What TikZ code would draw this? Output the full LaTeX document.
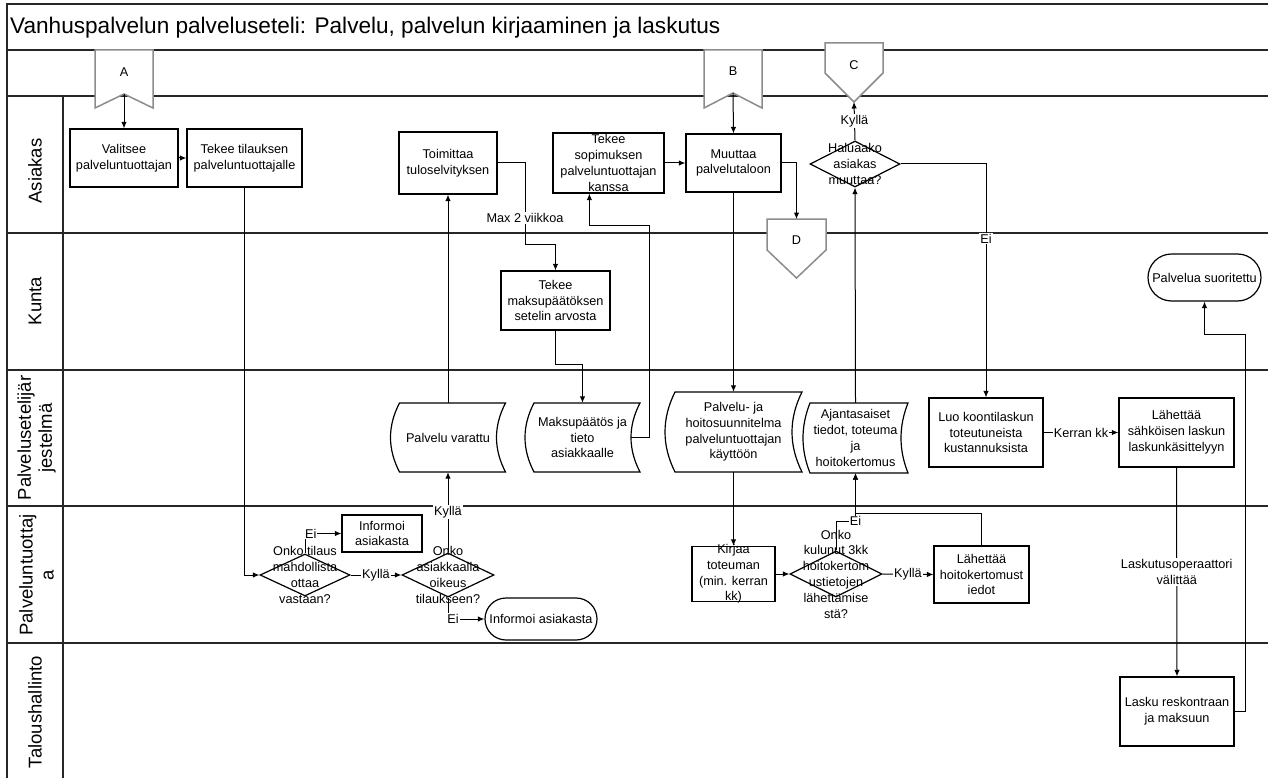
\documentclass[tikz,border=0pt]{standalone}
\usepackage{fontspec}
\setmainfont{Liberation Sans}
\usetikzlibrary{arrows.meta,shapes.geometric,shapes.misc,calc}

% process box: empty frame plus a centred text node (text may overflow the frame)
\newcommand\procbox[6]{%
  \node[boxshape, minimum width=#4, minimum height=#5] (#1) at (#2,#3) {};
  \node[txt] (#1-t) at (#1.center) {#6};}
% decision diamond with overflowing text
\newcommand\decbox[6]{%
  \node[decshape, minimum width=#4, minimum height=#5] (#1) at (#2,#3) {};
  \node[txt] (#1-t) at (#1.center) {#6};}
% stored-data symbol: name, cx, cy, width, height, bulge, text
\newcommand\storedbox[7]{%
  \draw[boxline, fill=white] ({#2-#4/2+#6},{#3-#5/2}) -- ({#2+#4/2},{#3-#5/2})
    .. controls ({#2+#4/2-4*#6/3},{#3-#5/6}) and ({#2+#4/2-4*#6/3},{#3+#5/6}) .. ({#2+#4/2},{#3+#5/2})
    -- ({#2-#4/2+#6},{#3+#5/2})
    .. controls ({#2-#4/2+#6-4*#6/3},{#3+#5/6}) and ({#2-#4/2+#6-4*#6/3},{#3-#5/6}) .. cycle;
  \node[txt, minimum width={#4-2*#6}, minimum height=#5] (#1) at (#2,#3) {#7};}

\begin{document}
\begin{tikzpicture}[x=1pt,y=-1pt,
  txt/.style={font=\fontsize{12.7}{15.8}\selectfont, align=center, inner sep=0pt},
  boxline/.style={draw=black, line width=1.2pt},
  boxshape/.style={boxline, fill=white, inner sep=0pt},
  decshape/.style={diamond, boxline, fill=white, inner sep=0pt},
  termshape/.style={rounded rectangle, boxline, fill=white, inner sep=0pt, txt},
  conn/.style={line width=1pt, -{Latex[length=6.5pt,width=5.5pt]}},
  lbl/.style={txt, fill=white, inner sep=1pt},
  lane/.style={line width=1.2pt, draw=black!85},
  offpage/.style={draw=black!45, line width=1.5pt, fill=white},
  lanetitle/.style={font=\fontsize{18.5}{21}\selectfont, align=center, rotate=90, inner sep=0pt}
]
\useasboundingbox (0,0) rectangle (1268,778);

% frame, title band, header band and swimlanes
\draw[lane] (7,778) -- (7,4) -- (1268,4);
\draw[lane] (7,50) -- (1268,50);
\draw[lane] (7,96) -- (1268,96);
\foreach \yy in {233,370,506,643} \draw[lane] (7,\yy) -- (1268,\yy);
\draw[lane] (63,96) -- (63,778);

\node[anchor=base west, font=\fontsize{22.6}{26}\selectfont, inner sep=0pt] (title) at (10,34)
  {Vanhuspalvelun palveluseteli: Palvelu, palvelun kirjaaminen ja laskutus};

\node[lanetitle] (lane1) at (35,171) {Asiakas};
\node[lanetitle] (lane2) at (35,301) {Kunta};
\node[lanetitle] (lane3) at (36.5,438) {Palvelusetelijär\\jestelmä};
\node[lanetitle] (lane4) at (36.5,575) {Palveluntuottaj\\a};
\node[lanetitle] (lane5) at (35,712) {Taloushallinto};

% off-page connectors
\draw[offpage] (95,50) -- (153,50) -- (153,108) -- (124,94) -- (95,108) -- cycle;
\node[txt] (A) at (124,72) {A};
\coordinate (A-out) at (124,94);
\draw[offpage] (704,50) -- (762,50) -- (762,108) -- (733,93) -- (704,108) -- cycle;
\node[txt] (B) at (733,71) {B};
\coordinate (B-out) at (733,93);
\draw[offpage] (825,43) -- (883,43) -- (883,73) -- (854,102) -- (825,73) -- cycle;
\node[txt] (C) at (854,65) {C};
\coordinate (C-in) at (854,102);
\draw[offpage] (767,219) -- (826,219) -- (826,250) -- (796.5,278) -- (767,250) -- cycle;
\node[txt] (D) at (796.5,240) {D};
\coordinate (D-in) at (796.5,219);

% Asiakas
\procbox{valitsee}{124}{158}{108}{58}{Valitsee\\palveluntuottajan}
\procbox{tilaus}{244.5}{158}{115}{58}{Tekee tilauksen\\palveluntuottajalle}
\procbox{toimittaa}{448}{163}{98}{62}{Toimittaa\\tuloselvityksen}
\procbox{sopimus}{608.5}{163}{111}{60}{Tekee\\sopimuksen\\palveluntuottajan\\kanssa}
\procbox{muuttaa}{733.5}{163}{95}{58}{Muuttaa\\palvelutaloon}
\decbox{hal}{855}{164}{90}{46}{Haluaako\\asiakas\\muuttaa?}

% Kunta
\procbox{maksu}{555.5}{300.5}{109}{59}{Tekee\\maksupäätöksen\\setelin arvosta}
\node[termshape, minimum width=113, minimum height=47] (suor) at (1204.5,277.5) {Palvelua suoritettu};

% Palvelusetelijärjestelmä
\storedbox{pv}{448}{437.5}{115}{69}{9}{Palvelu varattu}
\storedbox{mp}{582.5}{437.5}{115}{69}{9}{Maksupäätös ja\\tieto\\asiakkaalle}
\storedbox{pj}{733.5}{432}{137}{80}{10}{Palvelu- ja\\hoitosuunnitelma\\palveluntuottajan\\käyttöön}
\storedbox{ajan}{855.5}{438}{105}{70}{7}{Ajantasaiset\\tiedot, toteuma\\ja\\hoitokertomus}
\procbox{luo}{986}{432.5}{114}{69}{Luo koontilaskun\\toteutuneista\\kustannuksista}
\procbox{lsahk}{1176.5}{432.5}{115}{69}{Lähettää\\sähköisen laskun\\laskunkäsittelyyn}

% Palveluntuottaja
\decbox{d1}{305}{575}{90}{42}{Onko tilaus\\mahdollista\\ottaa\\vastaan?}
\procbox{info1}{382}{533.5}{80}{37}{Informoi\\asiakasta}
\decbox{d2}{448}{575}{92}{44}{Onko\\asiakkaalla\\oikeus\\tilaukseen?}
\node[termshape, minimum width=112, minimum height=42] (info2) at (541,619) {Informoi asiakasta};
\procbox{kirjaa}{733.5}{574}{83}{55}{Kirjaa\\toteuman\\(min. kerran\\kk)}
\decbox{d3}{836}{574}{92}{46}{Onko\\kulunut 3kk\\hoitokertom\\ustietojen\\lähettämise\\stä?}
\procbox{lhh}{981.5}{574.5}{95}{57}{Lähettää\\hoitokertomust\\iedot}

% Taloushallinto
\procbox{lasku}{1177}{711.5}{114}{69}{Lasku reskontraan\\ja maksuun}

% helper points for connectors
\coordinate (sop-in) at ($(sopimus.south west)+(37,0)$);
\coordinate (hk-join) at ($(ajan.south)+(0,40)$);
\coordinate (ei-bend) at ($(ajan.south)+(0,48)$);

% connectors
\draw[conn] (A-out) -- (valitsee.north);
\draw[conn] (valitsee.east) -- (tilaus.west);
\draw[conn] (tilaus.south) |- (d1.west);
\draw[conn] (d1.north) |- node[lbl,pos=0.58]{Ei} (info1.west);
\draw[conn] (d1.east) -- node[lbl]{Kyllä} (d2.west);
\draw[conn] (d2.north) -- node[lbl]{Kyllä} (pv.south);
\draw[conn] (d2.south) |- node[lbl,pos=0.57]{Ei} (info2.west);
\draw[conn] (pv.north) -- (toimittaa.south);
\draw[conn] (toimittaa.east) -| node[lbl,pos=0.84]{Max 2 viikkoa} (525,244) -| (maksu.north);
\draw[conn] (maksu.south) -- ++(0,34) -| (mp.north);
\draw[conn] (mp.east) -| (649,225) -| (sop-in);
\draw[conn] (sopimus.east) -- (muuttaa.west);
\draw[conn] (B-out) -- (muuttaa.north);
\draw[conn] (muuttaa.east) -| (D-in);
\draw[conn] (muuttaa.south) -- (pj.north);
\draw[conn] (pj.south) -- (kirjaa.north);
\draw[conn] (kirjaa.east) -- (d3.west);
\draw[conn] (d3.east) -- node[lbl]{Kyllä} (lhh.west);
\draw[conn] (lhh.north) |- (hk-join) -- (ajan.south);
\draw[conn] (d3.north) |- (ei-bend) node[lbl]{Ei} -- (ajan.south);
\draw[conn] (ajan.north) -- (hal.south);
\draw[conn] (hal.north) -- node[lbl]{Kyllä} (C-in);
\draw[conn] (hal.east) -| node[lbl,pos=0.66]{Ei} (luo.north);
\draw[conn] (luo.east) -- node[lbl]{Kerran kk} (lsahk.west);
\draw[conn] (lsahk.south) -- node[lbl]{Laskutusoperaattori\\välittää} (lasku.north);
\draw[conn] (lasku.east) -| (1245,334) -| (suor.south);
\end{tikzpicture}
\end{document}
